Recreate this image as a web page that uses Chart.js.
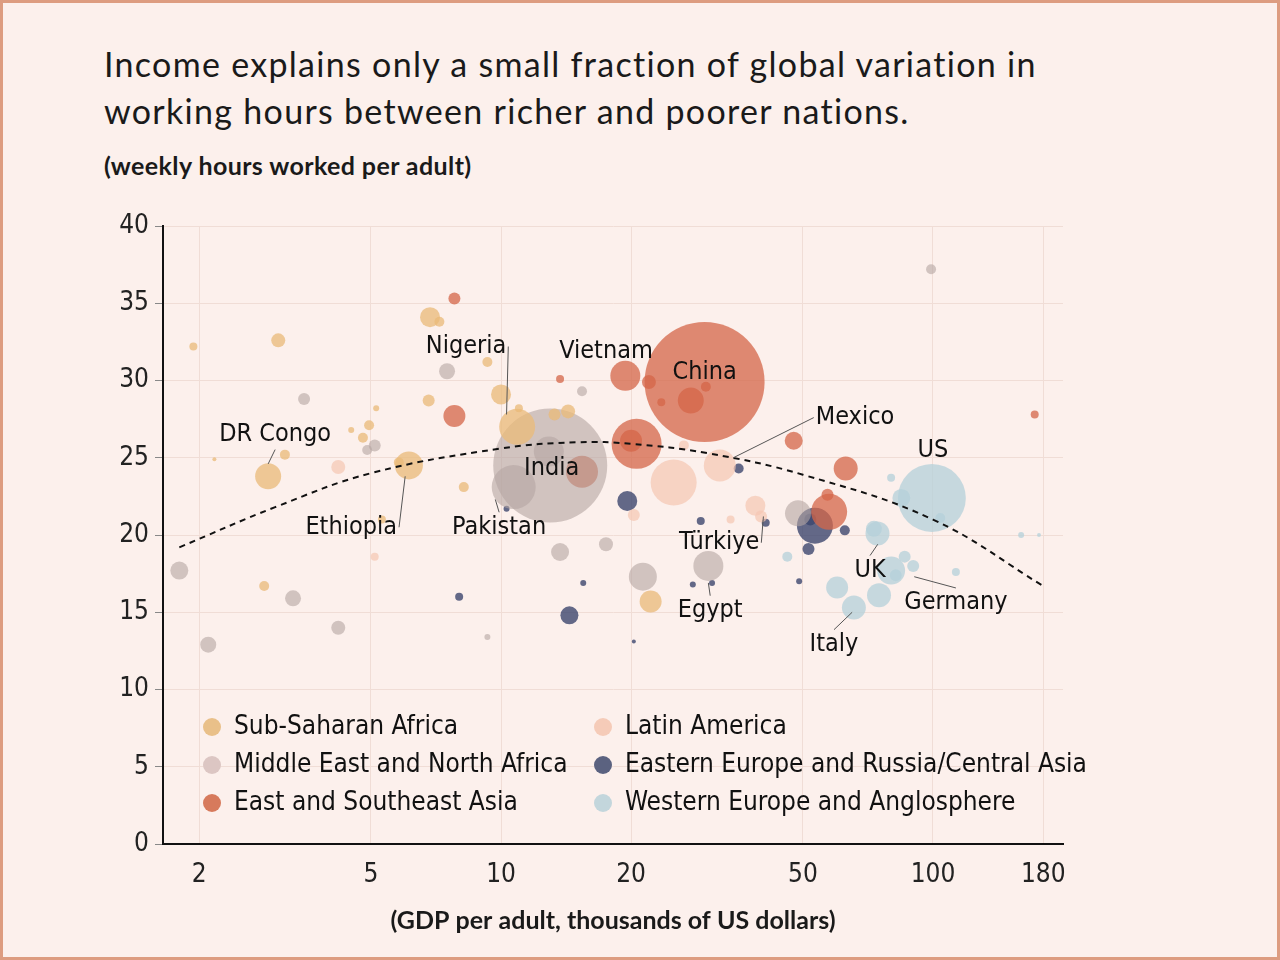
<!DOCTYPE html>
<html><head><meta charset="utf-8">
<script src="https://cdn.jsdelivr.net/npm/chart.js@4"></script>
<style>
html,body{margin:0;padding:0;}
body{width:1280px;height:960px;background:#fcf0ec;position:relative;overflow:hidden;}
#frame{position:absolute;left:0;top:0;width:1274px;height:954px;border:3px solid #dd9c80;pointer-events:none;z-index:5;}
#title{position:absolute;left:104px;top:40px;font-family:Lato,"Open Sans",sans-serif;font-size:34px;line-height:47px;color:#1a1a1a;letter-spacing:1.3px;}
#sub{position:absolute;left:104px;top:150px;font-family:Lato,sans-serif;font-weight:bold;font-size:25px;color:#1a1a1a;letter-spacing:0.4px;}
canvas{position:absolute;left:0;top:0;}
</style></head><body>
<div id="frame"></div>
<div id="title">Income explains only a small fraction of global variation in<br>working hours between richer and poorer nations.</div>
<div id="sub">(weekly hours worked per adult)</div>
<canvas id="c" width="1280" height="960"></canvas>
<script>
const regions = ["Sub-Saharan Africa","Middle East and North Africa","East and Southeast Asia","Latin America","Eastern Europe and Russia/Central Asia","Western Europe and Anglosphere"];
const colors = ["rgba(233,186,120,0.75)","rgba(180,165,162,0.6)","rgba(212,102,72,0.75)","rgba(245,198,178,0.7)","rgba(60,70,110,0.8)","rgba(180,208,218,0.75)"];
const legendColors = ["#e9c089","#dcc6c3","#d77a5c","#f5cbb8","#5b6280","#c3d6dc"];
// [gdp thousands, hours, radius]
const ssa = [[1.94,32.2,4],[3.05,32.6,7],[2.89,23.8,13],[3.16,25.2,5],[2.17,24.9,2],[2.83,16.7,5],[4.95,27.1,5],[5.14,28.2,3],[4.79,26.3,5],[6.12,24.5,14],[5.8,24.7,5],[6.85,34.1,10],[7.2,33.8,5],[6.8,28.7,6],[8.2,23.1,5],[10.0,29.1,10],[10.9,27.0,18],[9.3,31.2,5],[22.2,15.7,11],[5.3,21.0,4],[14.3,28.0,7],[13.3,27.8,6],[11.0,28.2,4],[4.5,26.8,3]];
const mena = [[1.8,17.7,9],[2.1,12.9,8],[3.5,28.8,6],[3.3,15.9,8],[4.2,14.0,7],[5.1,25.8,6],[7.5,30.6,8],[13.0,24.5,57],[10.7,23.1,22],[12.9,25.4,15],[13.7,18.9,9],[17.5,19.4,7],[21.3,17.3,14],[30.2,18.0,15],[48.7,21.4,13],[15.4,29.3,5],[99.0,37.2,5],[4.9,25.5,5],[9.3,13.4,3]];
const esa = [[7.8,35.3,6],[7.8,27.7,11],[19.4,30.3,15],[22.0,29.9,7],[29.6,29.9,60],[27.5,28.7,13],[29.8,29.6,5],[20.6,25.9,25],[20.0,26.1,11],[15.4,24.1,16],[13.7,30.1,4],[47.6,26.1,9],[62.8,24.3,12],[57.5,21.5,18],[57.0,22.6,6],[172,27.8,4],[23.5,28.6,4]];
const lat = [[25.1,23.4,23],[32.1,24.5,16],[38.8,21.9,10],[40.0,21.2,6],[4.2,24.4,7],[20.3,21.3,6],[5.1,18.6,4],[26.5,25.8,5],[34.0,21.0,4]];
const eeu = [[8.0,16.0,4],[14.4,14.8,9],[19.6,22.2,10],[35.5,24.3,5],[29.0,20.9,4],[41.0,20.8,4],[53.3,20.6,18],[51.5,19.1,6],[62.5,20.3,5],[49.0,17.0,3],[15.5,16.9,3],[30.8,16.9,3],[27.8,16.8,3],[20.3,13.1,2],[10.3,21.7,3],[52.0,21.0,6]];
const weu = [[99.4,22.4,34],[84.5,22.4,9],[80.0,23.7,4],[74.4,20.1,12],[73.0,20.4,8],[80.0,17.7,14],[82.0,17.4,6],[75.0,16.1,12],[65.6,15.3,12],[60.0,16.6,11],[86.0,18.6,6],[90.0,18.0,6],[113,17.6,4],[104,21.1,5],[160,20.0,3],[176,20.0,2],[46.0,18.6,5]];
const seriesData = [ssa,mena,esa,lat,eeu,weu];
// dashed fitted curve
const curveX = [1.8,3,5,10,15,20,30,50,100,180];
const curveY = [19.2,21.8,24.0,25.6,26.0,25.9,25.3,23.9,21.0,16.7];
const xTicks = [2,5,10,20,50,100,180];
const yTicks = [0,5,10,15,20,25,30,35,40];
const labels = [
 ["DR Congo",3.0,26.5,2.89,24.6],["Ethiopia",4.5,20.5,6.0,23.8],["Nigeria",8.3,32.2,10.3,27.8],
 ["Pakistan",9.9,20.5,9.7,22.3],["India",13.1,24.3,null,null],["Vietnam",17.5,31.9,null,null],
 ["China",29.6,30.5,null,null],["Mexico",66,27.6,34.5,25.0],["US",100,25.5,null,null],
 ["Türkiye",32,19.5,40.5,21.2],["UK",71.5,17.7,74.5,19.4],["Germany",113,15.6,90.5,17.3],
 ["Egypt",30.5,15.1,30.2,16.9],["Italy",59,12.9,65,15.0]
];
const ds = regions.map((r,i)=>({type:'bubble',label:r,data:seriesData[i].map(p=>({x:p[0],y:p[1],r:p[2]})),backgroundColor:colors[i],borderWidth:0,order:2}));
ds.push({type:'line',label:'fit',data:curveX.map((x,i)=>({x:x,y:curveY[i]})),borderColor:'#111',borderWidth:2,borderDash:[6,5],pointRadius:0,tension:0.4,fill:false,order:1});
const fam = '"DejaVu Sans Condensed","DejaVu Sans",sans-serif';
function setCond(c,size){c.font='condensed '+size+'px "DejaVu Sans"';try{c.fontStretch='condensed';}catch(e){}}
const annot = {id:'annot',afterDatasetsDraw(ch){
 const c=ch.ctx,xs=ch.scales.x,ys=ch.scales.y;
 c.save();setCond(c,25);c.fillStyle='#111';c.textAlign='center';c.textBaseline='middle';c.strokeStyle='#555';c.lineWidth=1;
 labels.forEach(l=>{const lx=xs.getPixelForValue(l[1]),ly=ys.getPixelForValue(l[2]);
  if(l[3]!==null){const tx=xs.getPixelForValue(l[3]),ty=ys.getPixelForValue(l[4]);
   const w=c.measureText(l[0]).width;let sx=lx,sy=ly;
   if(Math.abs(tx-lx)>w/2){sx=lx+(tx>lx?w/2+2:-w/2-2);}else{sy=ly+(ty>ly?15:-15);}
   c.beginPath();c.moveTo(sx,sy);c.lineTo(tx,ty);c.stroke();}
  c.fillText(l[0],lx,ly);});
 c.textAlign='left';setCond(c,26);
 regions.forEach((r,i)=>{const col=i<3?0:1,row=i%3;const x=col?603:212,y=727+row*38;
  c.fillStyle=legendColors[i];c.beginPath();c.arc(x,y,9,0,Math.PI*2);c.fill();
  c.fillStyle='#111';c.fillText(r,x+22,y);});
 c.restore();}};
new Chart(document.getElementById('c'),{data:{datasets:ds},plugins:[annot],options:{
 responsive:false,animation:false,
 layout:{padding:{left:100,right:217,top:226,bottom:20}},
 plugins:{legend:{display:false},tooltip:{enabled:false}},
 scales:{
  x:{type:'logarithmic',min:1.65,max:200,afterBuildTicks(s){s.ticks=xTicks.map(v=>({value:v}));},
   afterFit(s){s.height=96;},
   ticks:{autoSkip:false,maxRotation:0,font:{family:fam,size:26},color:'#222',callback:v=>String(v),padding:16},
   grid:{color:'#f0ddd6',drawTicks:false},border:{color:'#111',width:2},
   title:{display:true,text:'(GDP per adult, thousands of US dollars)',font:{family:'Lato,sans-serif',size:25,weight:'bold'},color:'#1a1a1a',padding:{top:8}}},
  y:{min:0,max:40,afterBuildTicks(s){s.ticks=yTicks.map(v=>({value:v}));},afterFit(s){s.width=63;},
   ticks:{font:{family:fam,size:26},color:'#222',padding:6},
   grid:{color:'#f0ddd6',tickColor:'#888',tickLength:8},border:{color:'#111',width:2}}
 }}});
</script></body></html>
